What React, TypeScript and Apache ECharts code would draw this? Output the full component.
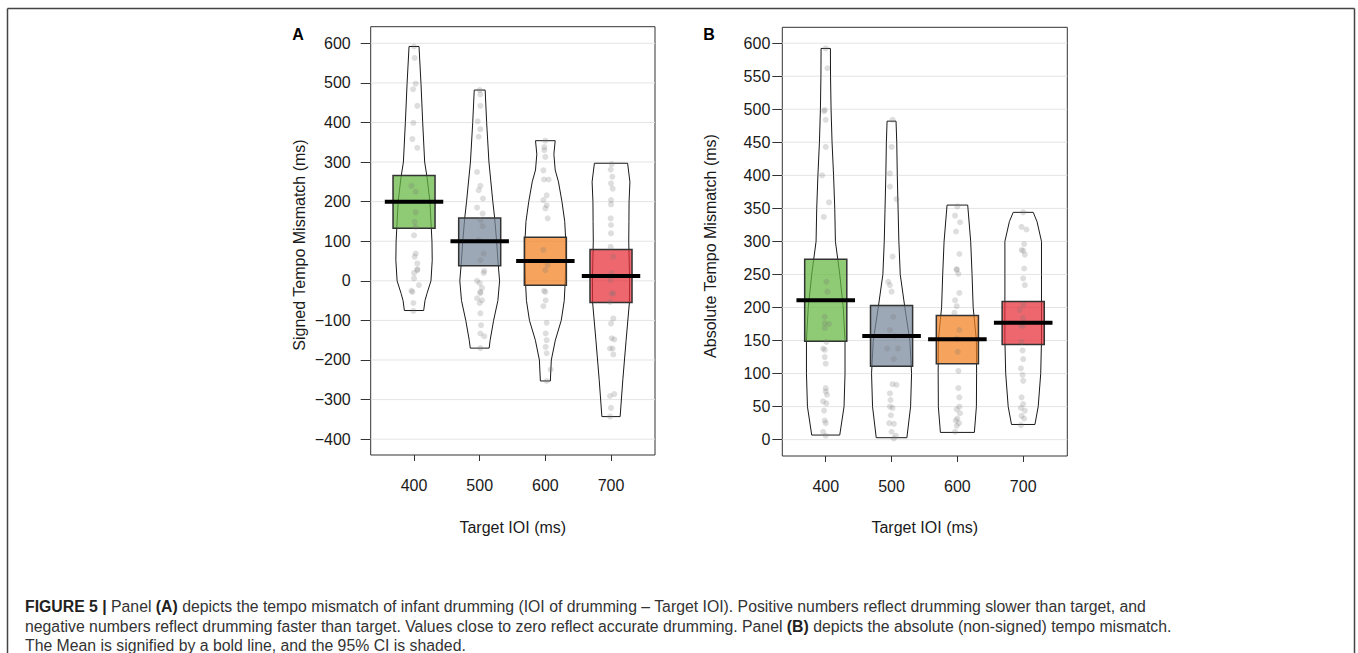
import React, { useEffect, useRef } from "react";
import * as echarts from "echarts";

// ---------- data ----------
const targetIOI = ["400", "500", "600", "700"];
const signedTicks = [-400, -300, -200, -100, 0, 100, 200, 300, 400, 500, 600];
const absTicks = [0, 50, 100, 150, 200, 250, 300, 350, 400, 450, 500, 550, 600];

const signedMean = [200, 100, 50, 12];
const signedCILow = [133, 38, -11, -55];
const signedCIHigh = [266, 159, 110, 79];
const absMean = [211, 157, 152, 177];
const absCILow = [149, 111, 115, 144];
const absCIHigh = [273, 203, 188, 209];

// bean (density) outline: [value, half width in category units]
const signedBean400 = [[-75, 0.147], [-50, 0.167], [-32, 0.197], [0, 0.258], [52, 0.277], [100, 0.273], [200, 0.242], [263, 0.197], [300, 0.162], [400, 0.132], [498, 0.106], [592, 0.076]];
const signedBean500 = [[-170, 0.144], [-150, 0.159], [-100, 0.212], [-50, 0.277], [0, 0.303], [52, 0.277], [100, 0.258], [160, 0.227], [200, 0.2], [300, 0.141], [400, 0.106], [482, 0.083]];
const signedBean600 = [[-253, 0.076], [-200, 0.091], [-150, 0.152], [-100, 0.242], [-50, 0.288], [0, 0.303], [52, 0.311], [100, 0.311], [150, 0.295], [200, 0.253], [250, 0.2], [280, 0.15], [320, 0.13], [354, 0.15]];
const signedBean700 = [[-343, 0.139], [-250, 0.18], [-150, 0.23], [-55, 0.28], [0, 0.283], [50, 0.277], [100, 0.27], [150, 0.273], [200, 0.275], [250, 0.288], [297, 0.253]];
const absBean400 = [[7, 0.213], [50, 0.278], [100, 0.293], [150, 0.293], [200, 0.266], [250, 0.213], [300, 0.147], [350, 0.137], [400, 0.119], [450, 0.096], [500, 0.081], [550, 0.073], [592, 0.071]];
const absBean500 = [[3, 0.233], [50, 0.289], [100, 0.304], [150, 0.278], [200, 0.202], [250, 0.132], [300, 0.111], [350, 0.099], [400, 0.087], [450, 0.079], [482, 0.068]];
const absBean600 = [[11, 0.258], [50, 0.289], [100, 0.292], [150, 0.289], [200, 0.24], [250, 0.223], [300, 0.202], [355, 0.157]];
const absBean700 = [[23, 0.178], [50, 0.228], [100, 0.266], [150, 0.278], [200, 0.278], [250, 0.278], [300, 0.278], [330, 0.21], [344, 0.152]];

// raw points: [jitter in category units, value]
const signedPts400 = [[0, 592], [0.01, 563], [0.025, 498], [-0.015, 484], [0.05, 442], [-0.01, 399], [-0.025, 358], [0.05, 336], [-0.04, 240], [0.025, 225], [0.025, 173], [0.01, 149], [0.025, 136], [0, 115], [0.025, 69], [0.01, 61], [0.05, 44], [0.05, 29], [0, 6], [0, 20], [0.05, 27], [-0.04, -25], [-0.025, -28], [0.075, -11], [-0.01, -56], [-0.01, -76]];
const signedPts500 = [[0, 482], [0.01, 471], [0.01, 442], [-0.03, 403], [0.01, 383], [-0.015, 364], [-0.04, 275], [0.01, 240], [-0.015, 229], [0.05, 208], [-0.04, 185], [0.045, 170], [0.01, 153], [0.045, 138], [-0.015, 103], [0.06, 69], [0.01, 52], [0.07, 25], [0.06, 20], [-0.04, 0], [0, -6], [0.035, -18], [0.01, -28], [0.01, -31], [-0.04, -44], [0.035, -49], [0, -56], [0.01, -82], [0.02, -112], [0.01, -133], [0.07, -140], [0.01, -170]];
const signedPts600 = [[0, 354], [-0.015, 338], [-0.015, 330], [0, 313], [-0.03, 279], [-0.02, 256], [0.05, 256], [0.02, 216], [-0.03, 204], [0.02, 191], [0, 183], [0.035, 158], [-0.03, 78], [0.035, 40], [0, 27], [0, -28], [-0.02, -25], [0.005, -49], [-0.03, -64], [0.02, -106], [0.005, -133], [0.02, -150], [0.005, -167], [0.02, -183], [0.08, -224], [0.02, -253]];
const signedPts700 = [[0.01, 295], [-0.005, 281], [0.02, 263], [0, 246], [0.025, 233], [0, 204], [0, 193], [-0.005, 158], [0, 141], [0, 120], [-0.005, 86], [0.035, 61], [0.01, 19], [-0.005, 2], [0.01, -32], [0.035, -32], [-0.015, -53], [0.035, -95], [0, -108], [0.01, -145], [0.05, -148], [-0.015, -171], [0.025, -171], [0.035, -186], [-0.015, -291], [0.05, -286], [0, -321], [-0.015, -343]];
const absPts400 = [[0, 592], [0.025, 562], [-0.015, 499], [-0.025, 497], [0, 484], [0, 443], [-0.055, 400], [0.05, 359], [-0.03, 337], [0.01, 239], [0.025, 224], [-0.015, 186], [-0.015, 176], [0.05, 175], [-0.015, 169], [0.01, 148], [-0.04, 138], [-0.015, 136], [-0.015, 125], [0, 115], [0, 78], [0, 73], [0.02, 68], [-0.04, 58], [0.01, 55], [-0.025, 44], [-0.015, 29], [0, 25], [-0.04, 12], [0, 6]];
const absPts500 = [[0.015, 484], [0, 443], [-0.025, 403], [-0.025, 383], [0.075, 364], [0.015, 277], [-0.05, 239], [-0.025, 234], [0, 224], [0.025, 186], [-0.025, 166], [0.05, 157], [-0.065, 138], [0.1, 138], [0.035, 122], [0.015, 84], [0.075, 83], [-0.025, 70], [-0.015, 60], [-0.025, 50], [0.015, 48], [-0.01, 37], [-0.035, 25], [0.035, 24], [0, 12], [0.065, 6], [0.035, 2]];
const absPts600 = [[0, 353], [-0.035, 339], [0.04, 329], [-0.02, 315], [0.03, 281], [-0.01, 258], [-0.01, 257], [0.015, 251], [0.03, 222], [-0.035, 211], [-0.01, 202], [-0.045, 192], [0.03, 166], [-0.01, 153], [0.005, 133], [0.015, 104], [0.015, 78], [0.03, 64], [0.03, 50], [-0.01, 46], [0.04, 40], [0, 32], [-0.025, 29], [0.025, 25], [-0.01, 21], [-0.035, 12]];
const absPts700 = [[0, 344], [-0.025, 322], [0.05, 318], [0.015, 296], [-0.025, 287], [0, 286], [0.025, 280], [0.015, 259], [0, 244], [0.025, 234], [0, 204], [-0.05, 196], [0, 184], [-0.035, 173], [0, 172], [-0.025, 148], [-0.01, 135], [0, 122], [-0.035, 108], [-0.01, 98], [0, 89], [-0.025, 64], [0, 54], [-0.035, 48], [0.025, 44], [-0.025, 36], [0.015, 32], [-0.035, 22]];

const barColors = ["rgba(100,182,62,0.72)", "rgba(118,135,154,0.72)", "rgba(242,128,30,0.72)", "rgba(232,44,54,0.72)"];

const X_MIN = 0.34;
const X_MAX = 4.67;
const BAR_HALF = 0.32;
const MEAN_HALF = 0.445;
const FONT = "'Liberation Sans', Arial, Helvetica, sans-serif";

function gridLineSeries(ticks: number[], axis: number) {
  return {
    type: "custom", xAxisIndex: axis, yAxisIndex: axis, z: 1, silent: true,
    data: ticks.map((t) => [1, t]),
    renderItem: (params: any, api: any) => {
      const v = ticks[params.dataIndex];
      const a = api.coord([X_MIN, v]);
      const b = api.coord([X_MAX, v]);
      return { type: "line", shape: { x1: a[0], y1: a[1], x2: b[0], y2: b[1] }, style: { stroke: "#e4e4e4", lineWidth: 1 } };
    },
  };
}

function beanSeries(beans: number[][][], axis: number) {
  return {
    type: "custom", xAxisIndex: axis, yAxisIndex: axis, z: 2, silent: true,
    data: beans.map((_, i) => [i + 1, 0]),
    renderItem: (params: any, api: any) => {
      const i = params.dataIndex;
      const c = i + 1;
      const prof = beans[i];
      const right = prof.map(([v, hw]) => api.coord([c + hw, v]));
      const left = prof.slice().reverse().map(([v, hw]) => api.coord([c - hw, v]));
      return { type: "polygon", shape: { points: right.concat(left) }, style: { fill: "none", stroke: "#1a1a1a", lineWidth: 1 } };
    },
  };
}

function pointSeries(groups: number[][][], axis: number) {
  const data: number[][] = [];
  groups.forEach((g, i) => g.forEach(([dx, v]) => data.push([i + 1 + dx, v])));
  return {
    type: "scatter", xAxisIndex: axis, yAxisIndex: axis, z: 4, silent: true,
    symbolSize: 6, data,
    itemStyle: { color: "#777", opacity: 0.24 },
  };
}

function barSeries(lo: number[], hi: number[], axis: number) {
  return {
    type: "custom", xAxisIndex: axis, yAxisIndex: axis, z: 3, silent: true,
    data: lo.map((l, i) => [i + 1, l, hi[i]]),
    renderItem: (params: any, api: any) => {
      const i = params.dataIndex;
      const c = i + 1;
      const p1 = api.coord([c - BAR_HALF, hi[i]]);
      const p2 = api.coord([c + BAR_HALF, lo[i]]);
      return {
        type: "rect",
        shape: { x: p1[0], y: p1[1], width: p2[0] - p1[0], height: p2[1] - p1[1] },
        style: { fill: barColors[i], stroke: "#333", lineWidth: 1.5 },
      };
    },
  };
}

function meanSeries(means: number[], axis: number) {
  return {
    type: "custom", xAxisIndex: axis, yAxisIndex: axis, z: 5, silent: true,
    data: means.map((m, i) => [i + 1, m]),
    renderItem: (params: any, api: any) => {
      const i = params.dataIndex;
      const c = i + 1;
      const a = api.coord([c - MEAN_HALF, means[i]]);
      const b = api.coord([c + MEAN_HALF, means[i]]);
      return { type: "line", shape: { x1: a[0], y1: a[1], x2: b[0], y2: b[1] }, style: { stroke: "#000", lineWidth: 4 } };
    },
  };
}

function xAxis(grid: number) {
  return {
    type: "value", gridIndex: grid, min: X_MIN, max: X_MAX,
    axisLine: { show: false, onZero: false },
    splitLine: { show: false },
    axisTick: { show: true, customValues: [1, 2, 3, 4], length: 6, lineStyle: { color: "#333", width: 1 } },
    axisLabel: {
      customValues: [1, 2, 3, 4], margin: 22, fontSize: 16, fontFamily: FONT, color: "#1a1a1a",
      formatter: (v: number) => targetIOI[Math.round(v) - 1],
    },
  };
}

function yAxis(grid: number, min: number, max: number, ticks: number[], margin: number) {
  return {
    type: "value", gridIndex: grid, min, max,
    axisLine: { show: false, onZero: false },
    splitLine: { show: false },
    axisTick: { show: true, customValues: ticks, length: 10, lineStyle: { color: "#333", width: 1 } },
    axisLabel: {
      customValues: ticks, margin, fontSize: 16, fontFamily: FONT, color: "#1a1a1a",
      formatter: (v: number) => (v < 0 ? "\u2212" + Math.abs(v) : String(v)),
    },
  };
}

const captionLines = [
  "{b|FIGURE 5 |} Panel {b|(A)} depicts the tempo mismatch of infant drumming (IOI of drumming \u2013 Target IOI). Positive numbers reflect drumming slower than target, and",
  "negative numbers reflect drumming faster than target. Values close to zero reflect accurate drumming. Panel {b|(B)} depicts the absolute (non-signed) tempo mismatch.",
  "The Mean is signified by a bold line, and the 95% CI is shaded.",
];

export default function App() {
  const ref = useRef<HTMLDivElement>(null);
  useEffect(() => {
    if (!ref.current) return;
    const chart = echarts.init(ref.current, undefined, { renderer: "svg" });
    const textBase = { fontFamily: FONT, fill: "#1a1a1a" };
    const graphic: any[] = [
      { type: "line", shape: { x1: 7.5, y1: 8.5, x2: 1354.5, y2: 8.5 }, style: { stroke: "#444", lineWidth: 1.5 } },
      { type: "line", shape: { x1: 7.5, y1: 8.5, x2: 7.5, y2: 653 }, style: { stroke: "#444", lineWidth: 1.5 } },
      { type: "line", shape: { x1: 1354.5, y1: 8.5, x2: 1354.5, y2: 653 }, style: { stroke: "#444", lineWidth: 1.5 } },
      { type: "text", x: 298, y: 34, style: { ...textBase, text: "A", fontSize: 16, fontWeight: "bold", align: "center", verticalAlign: "middle", fill: "#000" } },
      { type: "text", x: 709, y: 34, style: { ...textBase, text: "B", fontSize: 16, fontWeight: "bold", align: "center", verticalAlign: "middle", fill: "#000" } },
      { type: "text", x: 512.8, y: 527, style: { ...textBase, text: "Target IOI (ms)", fontSize: 16, align: "center", verticalAlign: "middle" } },
      { type: "text", x: 924.8, y: 527, style: { ...textBase, text: "Target IOI (ms)", fontSize: 16, align: "center", verticalAlign: "middle" } },
      { type: "text", x: 299, y: 245, rotation: Math.PI / 2, style: { ...textBase, text: "Signed Tempo Mismatch (ms)", fontSize: 16, align: "center", verticalAlign: "middle" } },
      { type: "text", x: 710.5, y: 246, rotation: Math.PI / 2, style: { ...textBase, text: "Absolute Tempo Mismatch (ms)", fontSize: 16, align: "center", verticalAlign: "middle" } },
    ];
    captionLines.forEach((line, i) => {
      graphic.push({
        type: "text", x: 25, y: 606.5 + i * 19.5,
        style: {
          text: line, fontFamily: FONT, fontSize: 15.8, fill: "#333", align: "left", verticalAlign: "middle",
          rich: { b: { fontFamily: FONT, fontSize: 15.8, fontWeight: "bold", fill: "#222" } },
        },
      });
    });

    chart.setOption({
      animation: false,
      backgroundColor: "#fff",
      grid: [
        { left: 370.7, top: 26.7, width: 284.3, height: 428.3, show: true, borderColor: "#333", borderWidth: 1, backgroundColor: "transparent" },
        { left: 782.3, top: 27.3, width: 285, height: 428.7, show: true, borderColor: "#333", borderWidth: 1, backgroundColor: "transparent" },
      ],
      xAxis: [xAxis(0), xAxis(1)],
      yAxis: [yAxis(0, -440, 642, signedTicks, 20), yAxis(1, -24.7, 624, absTicks, 12)],
      series: [
        gridLineSeries(signedTicks, 0),
        gridLineSeries(absTicks, 1),
        beanSeries([signedBean400, signedBean500, signedBean600, signedBean700], 0),
        beanSeries([absBean400, absBean500, absBean600, absBean700], 1),
        barSeries(signedCILow, signedCIHigh, 0),
        barSeries(absCILow, absCIHigh, 1),
        pointSeries([signedPts400, signedPts500, signedPts600, signedPts700], 0),
        pointSeries([absPts400, absPts500, absPts600, absPts700], 1),
        meanSeries(signedMean, 0),
        meanSeries(absMean, 1),
      ],
      graphic,
    });
    return () => chart.dispose();
  }, []);
  return <div ref={ref} style={{ position: "absolute", left: 0, top: 0, width: 1358, height: 653 }} />;
}
